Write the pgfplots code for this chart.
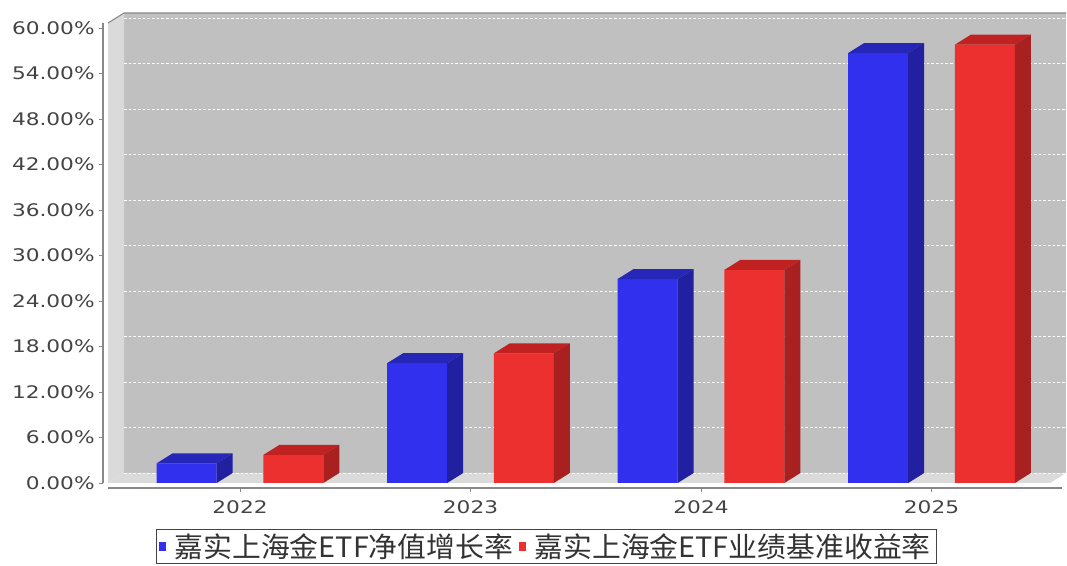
\documentclass[border=0pt]{standalone}
\usepackage{fontspec}
\setmainfont{DejaVu Sans}[FakeStretch=1.25]
\newfontfamily\cjk{Noto Sans CJK SC}[FakeStretch=1.03]
\usepackage{pgfplots}
\usepackage{pgfplotstable}
\pgfplotsset{compat=1.18}

\definecolor{bluef}{RGB}{48,48,238}
\definecolor{bluet}{RGB}{38,38,184}
\definecolor{blued}{RGB}{32,32,160}
\definecolor{redf}{RGB}{236,48,48}
\definecolor{redt}{RGB}{192,34,34}
\definecolor{redd}{RGB}{168,32,32}
\definecolor{wallback}{RGB}{192,192,192}
\definecolor{wallside}{RGB}{218,218,218}
\definecolor{axisgray}{RGB}{136,136,136}
\definecolor{labelgray}{RGB}{68,68,68}

% growth rates in percent
\pgfplotstableread{
x nav bench
0 2.6 3.7
1 15.8 17.1
2 26.9 28.1
3 56.7 57.8
}\data

% top and side face of a bar, drawn at the top centre of the front face
% #1 name, #2 bar shift, #3 top colour, #4 side colour; \ry = bar value
\newcommand{\declareprism}[4]{%
\pgfdeclareplotmark{#1}{%
  \pgfsetfillcolor{#3}%
  \pgfpathmoveto{\pgfpoint{#2-22.5pt}{0pt}}%
  \pgfpathlineto{\pgfpoint{#2+22.5pt}{0pt}}%
  \pgfpathlineto{\pgfpoint{#2+34.5pt}{7.5pt}}%
  \pgfpathlineto{\pgfpoint{#2-10.5pt}{7.5pt}}%
  \pgfpathclose\pgfusepathqfill
  \pgfsetfillcolor{#4}%
  \pgfpathmoveto{\pgfpoint{#2+22.5pt}{0pt}}%
  \pgfpathlineto{\pgfpoint{#2+34.5pt}{7.5pt}}%
  \pgfpathlineto{\pgfpoint{#2+34.5pt}{7.5pt-\ry*5.6875pt}}%
  \pgfpathlineto{\pgfpoint{#2+22.5pt}{-\ry*5.6875pt}}%
  \pgfpathclose\pgfusepathqfill}}
\declareprism{prismblue}{-40pt}{bluet}{blued}
\declareprism{prismred}{40pt}{redt}{redd}

% pixel position in the 1067x566 frame
\newcommand{\px}[2]{({#1*0.75pt},{(566-#2)*0.75pt})}

\begin{document}
\begin{tikzpicture}
\useasboundingbox (0,0) rectangle (800.25pt,424.5pt);
% walls of the 3d plot area
\fill[wallback] \px{124}{13} rectangle \px{1066}{473};
\fill[wallside] \px{108}{483} -- \px{108}{23} -- \px{124}{13} -- \px{124}{473} -- cycle;
\fill[wallside] \px{108}{483} -- \px{124}{473} -- \px{1066}{473} -- \px{1050}{483} -- cycle;
\draw[axisgray, line width=0.8pt] \px{108}{23} -- \px{124}{13} -- \px{1066}{13};

\begin{axis}[
    at={(81pt,62.25pt)}, anchor=south west,
    scale only axis, width=706.5pt, height=345pt,
    xmin=-0.5727, xmax=3.514, ymin=0, ymax=60.66,
    clip=false,
    ybar,
    axis line style={draw=none},
    xtick={0,1,2,3}, xticklabels={2022,2023,2024,2025},
    ytick={0,6,...,60},
    yticklabel={\pgfmathprintnumber[fixed,fixed zerofill,precision=2,assume math mode=true]{\tick}\%},
    xtick pos=bottom, ytick pos=left,
    tick align=outside, major tick length=3pt,
    ytick style={draw=axisgray, xshift=-3.75pt},
    xtick style={draw=axisgray, yshift=-3.75pt},
    ticklabel style={font=\fontsize{13pt}{15pt}\selectfont, text=labelgray},
    yticklabel style={xshift=-3.5pt},
    xticklabel style={yshift=-7pt},
    ymajorgrids,
    major grid style={draw=white, dash pattern=on 2pt off 1.5pt, line width=0.6pt, xshift=12pt, yshift=7.5pt},
    legend style={at={(0.465,-0.1)}, anchor=north, draw=labelgray, fill=white,
        font=\cjk\fontsize{21pt}{24pt}\selectfont, text=black!80,
        legend columns=2, inner xsep=2pt, inner ysep=1pt,
        /tikz/every even column/.append style={column sep=2pt}},
]
% front faces
\addplot[fill=bluef, draw=none, bar width=45pt, bar shift=-40pt,
    legend image code/.code={\fill[bluef] (1pt,-3.3pt) rectangle (6.5pt,3.3pt); \path (11pt,0pt);}]
    table[x=x, y=nav] {\data};
\addplot[fill=redf, draw=none, bar width=45pt, bar shift=40pt,
    legend image code/.code={\fill[redf] (1pt,-3.3pt) rectangle (6.5pt,3.3pt); \path (11pt,0pt);}]
    table[x=x, y=bench] {\data};
\legend{嘉实上海金ETF净值增长率, 嘉实上海金ETF业绩基准收益率}
% depth of the bars
\addplot[forget plot, only marks, mark=prismblue,
    visualization depends on={\thisrow{nav} \as \ry}]
    table[x=x, y=nav] {\data};
\addplot[forget plot, only marks, mark=prismred,
    visualization depends on={\thisrow{bench} \as \ry}]
    table[x=x, y=bench] {\data};
\end{axis}

% axis lines
\draw[axisgray, line width=1pt] \px{103}{23} -- \px{103}{483};
\draw[axisgray, line width=1.2pt] \px{108}{488} -- \px{1062}{488};
\end{tikzpicture}
\end{document}
